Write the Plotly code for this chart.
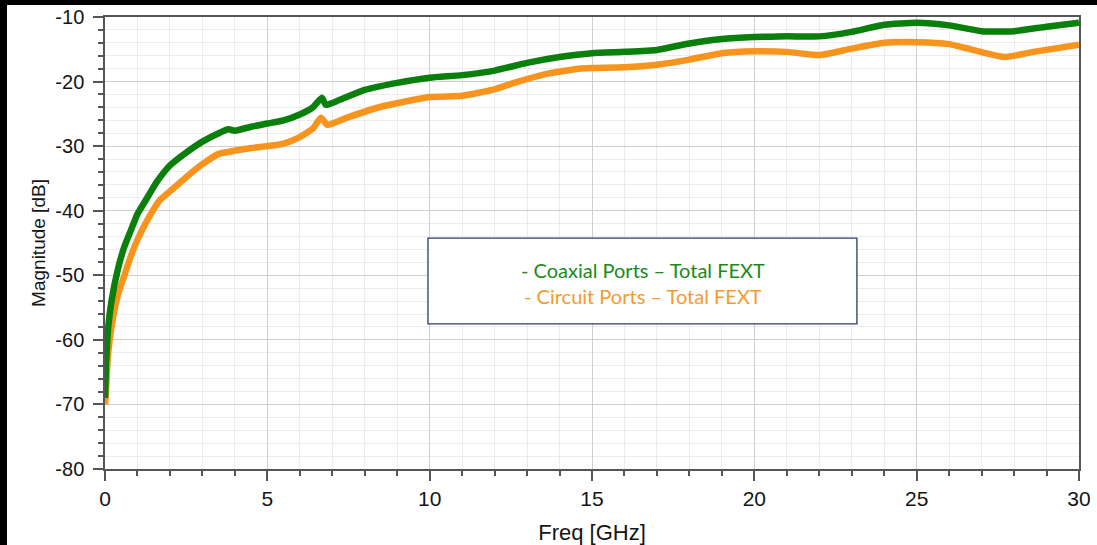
import plotly.graph_objects as go

# Total far-end crosstalk vs frequency for two port setups
freq_coax = [0.0, 0.03, 0.06, 0.1, 0.2, 0.4, 0.6, 0.8, 1.0, 1.3, 1.6, 2.0, 2.5, 3.0, 3.5, 3.8, 4.0,
             4.5, 5.0, 5.5, 6.0, 6.4, 6.68, 6.8, 7.2, 8.0, 9.0, 10.0, 11.0, 12.0, 13.0, 14.0,
             15.0, 16.0, 17.0, 18.0, 19.0, 20.0, 21.0, 22.0, 23.0, 24.0, 25.0, 26.0, 27.0,
             28.0, 29.0, 30.0]
fext_coax = [-69.0, -64.0, -61.0, -58.0, -54.0, -49.0, -45.5, -43.0, -40.5, -38.0, -35.5, -33.0,
             -31.0, -29.3, -28.0, -27.4, -27.6, -27.0, -26.5, -26.0, -25.1, -24.0, -22.5, -23.6,
             -22.9, -21.3, -20.2, -19.4, -19.0, -18.3, -17.1, -16.2, -15.6, -15.4, -15.1, -14.1,
             -13.4, -13.1, -13.0, -13.0, -12.3, -11.2, -10.9, -11.3, -12.2, -12.2, -11.5, -10.9]

freq_circ = [0.0, 0.03, 0.06, 0.1, 0.2, 0.4, 0.6, 0.8, 1.0, 1.3, 1.7, 2.0, 2.5, 3.0, 3.5, 3.8, 4.5,
             5.0, 5.5, 6.0, 6.4, 6.65, 6.85, 7.5, 8.5, 10.0, 11.0, 12.0, 12.6, 13.6, 14.6, 15.0,
             16.0, 17.0, 18.0, 19.0, 20.0, 21.0, 22.0, 23.0, 24.0, 25.0, 26.0, 26.5, 27.7, 28.6,
             30.0]
fext_circ = [-70.0, -68.0, -65.0, -62.0, -58.0, -53.0, -50.0, -47.0, -44.5, -41.5, -38.3, -37.0,
             -34.8, -32.8, -31.2, -30.9, -30.3, -30.0, -29.6, -28.6, -27.3, -25.6, -26.7, -25.5,
             -23.9, -22.4, -22.2, -21.2, -20.2, -18.8, -18.0, -17.9, -17.8, -17.4, -16.6, -15.6,
             -15.3, -15.4, -15.9, -14.9, -14.0, -13.9, -14.2, -14.8, -16.2, -15.4, -14.3]

x_ticks = [0, 5, 10, 15, 20, 25, 30]
x_tick_labels = ["0", "5", "10", "15", "20", "25", "30"]
y_ticks = [-80, -70, -60, -50, -40, -30, -20, -10]
y_tick_labels = ["-80", "-70", "-60", "-50", "-40", "-30", "-20", "-10"]

legend_lines = ["- Coaxial Ports \u2013 Total FEXT", "- Circuit Ports \u2013 Total FEXT"]

GREEN = "#0b7f0b"
ORANGE = "#f7941e"
MAJOR_GRID = "#cfcfcf"
MINOR_GRID = "#ececec"
AXIS = "#555555"
TEXT = "#151515"
FONT = "Liberation Sans, Arial, sans-serif"
LEGEND_FONT = "Lato, Open Sans, sans-serif"

fig = go.Figure()
fig.add_trace(go.Scatter(x=freq_circ, y=fext_circ, mode="lines",
                         line=dict(color=ORANGE, width=6.5, shape="spline", smoothing=0.5),
                         hoverinfo="x+y", showlegend=False))
fig.add_trace(go.Scatter(x=freq_coax, y=fext_coax, mode="lines",
                         line=dict(color=GREEN, width=6.5, shape="spline", smoothing=0.5),
                         hoverinfo="x+y", showlegend=False))

fig.update_xaxes(
    range=[0, 30], tickvals=x_ticks, ticktext=x_tick_labels,
    ticks="outside", ticklen=10, tickwidth=1.5, tickcolor=AXIS,
    showline=True, linecolor=AXIS, linewidth=1.5, mirror=True,
    showgrid=True, gridcolor=MAJOR_GRID, gridwidth=1.2, zeroline=False,
    minor=dict(dtick=1, ticks="outside", ticklen=5, tickcolor=AXIS, tickwidth=1.5,
               showgrid=True, gridcolor=MINOR_GRID, gridwidth=1),
    tickfont=dict(family=FONT, size=21, color=TEXT),
    title=dict(text="Freq [GHz]", font=dict(family=FONT, size=22, color=TEXT), standoff=16),
)
fig.update_yaxes(
    range=[-80, -10], tickvals=y_ticks, ticktext=y_tick_labels,
    ticks="outside", ticklen=10, tickwidth=1.5, tickcolor=AXIS,
    showline=True, linecolor=AXIS, linewidth=1.5, mirror=True,
    showgrid=True, gridcolor=MAJOR_GRID, gridwidth=1.2, zeroline=False,
    minor=dict(dtick=2, ticks="outside", ticklen=5, tickcolor=AXIS, tickwidth=1.5,
               showgrid=True, gridcolor=MINOR_GRID, gridwidth=1),
    tickfont=dict(family=FONT, size=20, color=TEXT),
    ticklabelstandoff=5,
    title=dict(text="Magnitude [dB]", font=dict(family=FONT, size=19, color=TEXT), standoff=5),
)

shapes = [
    # legend panel
    dict(type="rect", xref="paper", yref="paper", x0=0.3316, x1=0.772, y0=0.321, y1=0.511,
         line=dict(color="#2b3a67", width=1.3), fillcolor="white", layer="above"),
    # dark frame strips along the top and left edges
    dict(type="rect", xref="paper", yref="paper", x0=-0.2, x1=(7 - 105) / 974, y0=-0.3, y1=1.1,
         line=dict(width=0), fillcolor="black", layer="above"),
    dict(type="rect", xref="paper", yref="paper", x0=-0.2, x1=1.1, y0=(469 - 5) / 452, y1=1.1,
         line=dict(width=0), fillcolor="black", layer="above"),
]

annotations = [
    dict(text=legend_lines[0], xref="paper", yref="paper", x=0.552, y=0.440,
         showarrow=False, font=dict(family=LEGEND_FONT, size=20, color="#1b8a1b")),
    dict(text=legend_lines[1], xref="paper", yref="paper", x=0.552, y=0.383,
         showarrow=False, font=dict(family=LEGEND_FONT, size=20, color="#f59a2e")),
]

fig.update_layout(
    width=1097, height=545,
    margin=dict(l=105, r=18, t=17, b=76, autoexpand=False),
    paper_bgcolor="white", plot_bgcolor="white",
    shapes=shapes, annotations=annotations,
    showlegend=False,
)

fig.write_html("out.html")
